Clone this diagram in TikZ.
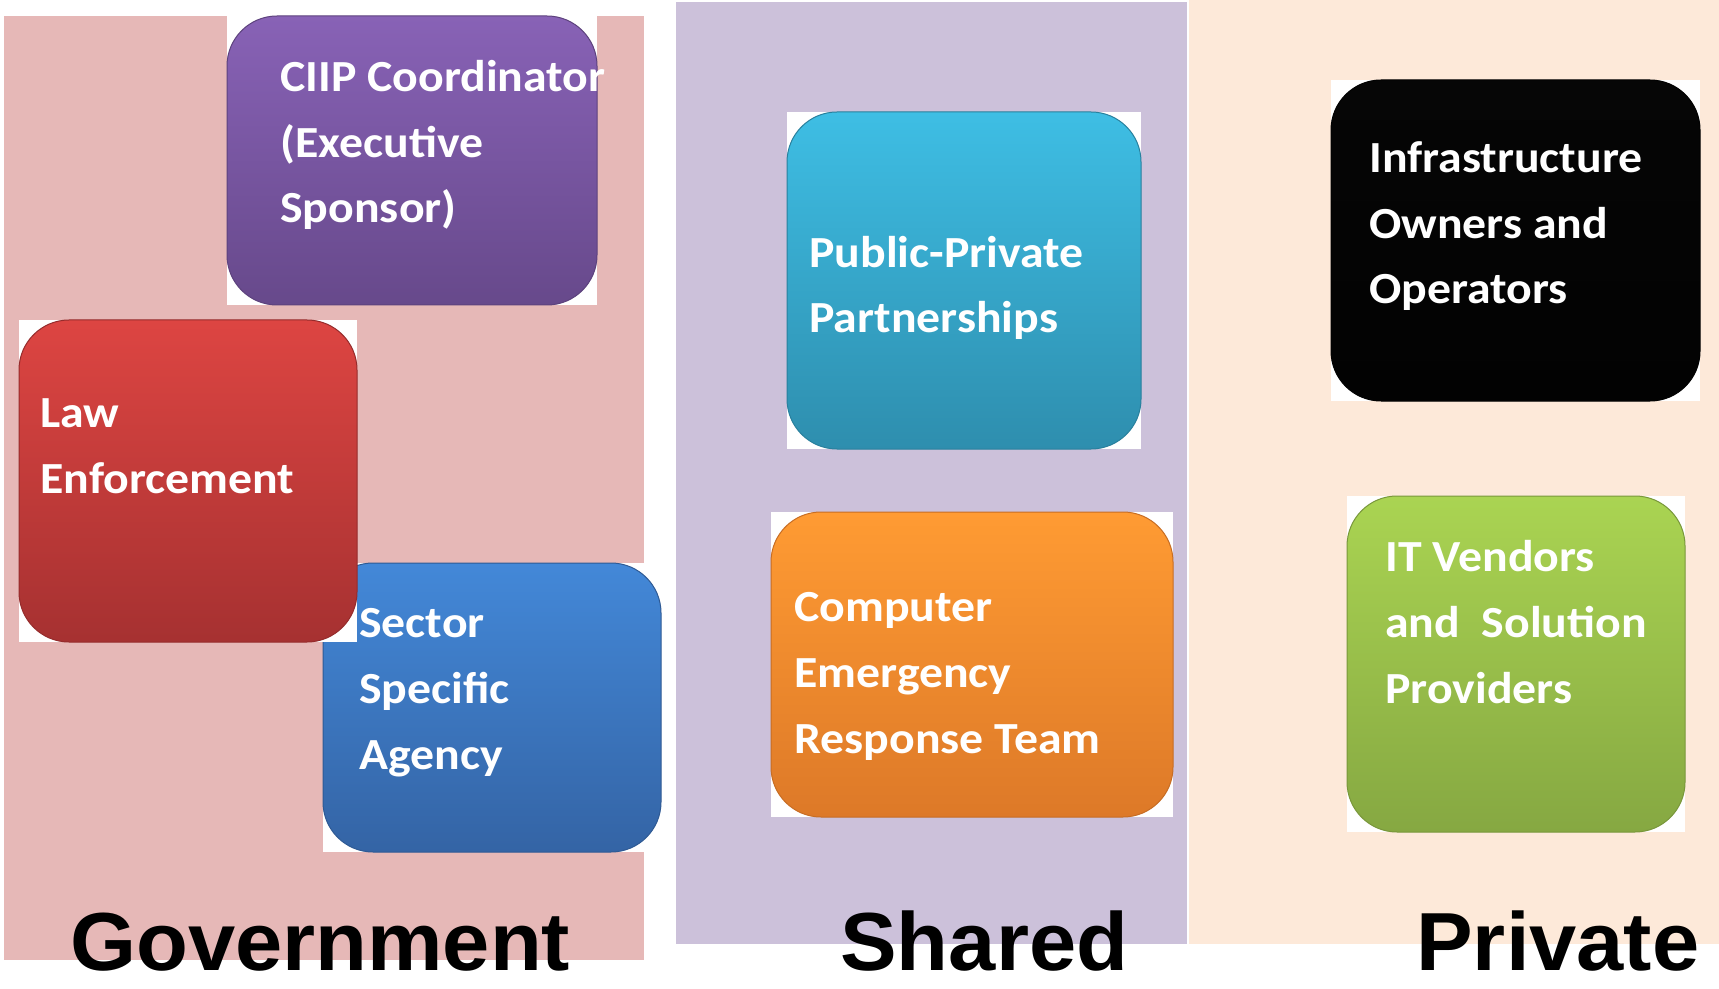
\documentclass[tikz,border=0pt]{standalone}
\usepackage{fontspec}
\usepackage{tikz}
\newfontfamily\tilefont{Carlito}[FakeStretch=1.075]
\newfontfamily\headfont{Liberation Sans}[FakeStretch=1.03]

% column backgrounds
\definecolor{govbg}{RGB}{230,184,183}
\definecolor{sharedbg}{RGB}{204,193,218}
\definecolor{privbg}{RGB}{253,233,217}
% tile shadings, top and bottom
\definecolor{purpletop}{RGB}{136,98,182}
\definecolor{purplebot}{RGB}{103,73,139}
\definecolor{redtop}{RGB}{221,69,66}
\definecolor{redbot}{RGB}{166,49,49}
\definecolor{bluetop}{RGB}{67,136,216}
\definecolor{bluebot}{RGB}{52,100,165}
\definecolor{cyantop}{RGB}{62,190,228}
\definecolor{cyanbot}{RGB}{46,142,174}
\definecolor{orangetop}{RGB}{255,155,51}
\definecolor{orangebot}{RGB}{221,121,40}
\definecolor{blacktop}{RGB}{6,6,6}
\definecolor{blackbot}{RGB}{2,2,2}
\definecolor{greentop}{RGB}{170,212,82}
\definecolor{greenbot}{RGB}{134,168,66}

\tikzset{
    tile/.style 2 args={top color=#1, bottom color=#2, draw=#2!90!black,
        line width=0.02cm, rounded corners=1cm},
    backing/.style={fill=white},
    tiletext/.style={text=white, align=left, inner sep=0pt, anchor=base west,
        font=\tilefont\bfseries\fontsize{25.3pt}{37.3pt}\selectfont},
    colhead/.style={inner sep=0pt, anchor=base west,
        font=\headfont\bfseries\fontsize{46.9pt}{50pt}\selectfont}
}

\begin{document}
\begin{tikzpicture}[x=0.02cm, y=-0.02cm]
    \useasboundingbox (0,0) rectangle (1719,989);
    % three columns
    \fill[govbg] (4,16) rectangle (644,960);
    \fill[sharedbg] (676,2) rectangle (1187,944);
    \fill[privbg] (1189,0) rectangle (1719,944);

    % government tiles (law sits on top of the agency tile)
    \fill[backing] (227,16) rectangle (597,305);
    \path[tile={purpletop}{purplebot}] (227,16) rectangle (597,305);
    \fill[backing] (323,563) rectangle (661,852);
    \path[tile={bluetop}{bluebot}] (323,563) rectangle (661,852);
    \fill[backing] (19,320) rectangle (357,642);
    \path[tile={redtop}{redbot}] (19,320) rectangle (357,642);

    % shared tiles
    \fill[backing] (787,112) rectangle (1141,449);
    \path[tile={cyantop}{cyanbot}] (787,112) rectangle (1141,449);
    \fill[backing] (771,512) rectangle (1173,817);
    \path[tile={orangetop}{orangebot}] (771,512) rectangle (1173,817);

    % private tiles
    \fill[backing] (1331,80) rectangle (1700,401);
    \path[tile={blacktop}{blackbot}] (1331,80) rectangle (1700,401);
    \fill[backing] (1347,496) rectangle (1685,832);
    \path[tile={greentop}{greenbot}] (1347,496) rectangle (1685,832);

    % tile labels, placed at the baseline of their last line
    \node[tiletext] (ciip) at (280,223) {CIIP Coordinator\\(Executive\\Sponsor)};
    \node[tiletext] (law) at (40,493) {Law\\Enforcement};
    \node[tiletext] (ssa) at (359,769) {Sector\\Specific\\Agency};
    \node[tiletext] (ppp) at (809,333) {Public-Private\\Partnerships};
    \node[tiletext] (cert) at (794,753) {Computer\\Emergency\\Response Team};
    \node[tiletext] (owners) at (1369,304) {Infrastructure\\Owners and\\Operators};
    \node[tiletext] (vendors) at (1385,703) {IT Vendors\\and\ \ Solution\\Providers};

    % column headings
    \node[colhead] (gov) at (70,970) {Government};
    \node[colhead] (shared) at (840,970) {Shared};
    \node[colhead] (private) at (1416,970) {Private};
\end{tikzpicture}
\end{document}
